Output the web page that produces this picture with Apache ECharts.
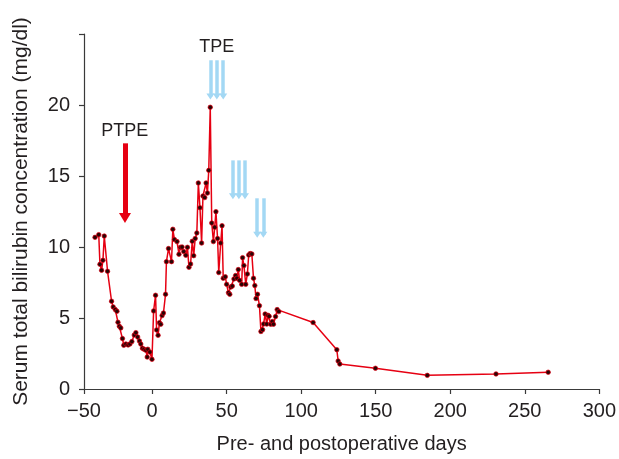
<!DOCTYPE html>
<html>
<head>
<meta charset="utf-8">
<script src="https://cdn.jsdelivr.net/npm/echarts@6/dist/echarts.min.js"></script>
<style>
  html, body { margin: 0; padding: 0; background: #fff; }
  #chart { width: 619px; height: 459px; }
</style>
</head>
<body>
<div id="chart"></div>
<script>
// days relative to operation, and serum bilirubin (mg/dl)
const days = [
  -38.3, -35.8, -35.0, -33.9, -33.0, -32.1, -29.9, -27.2, -26.1, -24.7,
  -23.6, -22.9, -22.0, -21.0, -19.9, -19.0, -17.6, -16.1, -14.9, -13.6,
  -12.0, -10.9, -9.7, -8.5, -7.6, -6.5, -5.4, -4.2, -3.3, -2.9,
  -1.5, -0.1, 1.0, 2.3, 3.0, 4.0, 4.9, 5.8, 6.7, 7.6,
  9.0, 9.6, 11.0, 13.0, 13.9, 15.0, 16.7, 18.0, 19.0, 20.1,
  21.2, 22.6, 23.7, 24.7, 25.8, 26.9, 27.9, 28.9, 30.0, 31.0,
  32.1, 33.2, 34.1, 35.3, 36.2, 37.1, 38.0, 39.0, 40.0, 41.1,
  42.0, 42.8, 43.9, 44.7, 46.0, 46.9, 47.7, 49.1, 50.0, 51.2,
  52.1, 52.8, 53.8, 54.9, 56.0, 56.9, 57.8, 58.7, 60.1, 60.7,
  61.6, 62.8, 63.9, 64.8, 65.8, 66.9, 68.0, 68.9, 69.7, 70.7,
  72.0, 73.0, 74.1, 74.8, 75.8, 76.9, 77.7, 78.5, 79.6, 80.6,
  81.4, 82.8, 83.9, 85.0, 108.0, 123.9, 124.8, 125.9, 149.8, 184.6,
  230.7, 265.7
];
const bilirubin = [
  10.68, 10.87, 8.78, 8.36, 9.06, 10.77, 8.29, 6.18, 5.78, 5.59,
  5.47, 4.70, 4.42, 4.30, 3.55, 3.08, 3.17, 3.10, 3.17, 3.34,
  3.80, 3.97, 3.66, 3.38, 3.17, 2.87, 2.80, 2.73, 2.25, 2.80,
  2.60, 2.09, 5.50, 6.60, 4.16, 3.78, 4.67, 4.56, 5.17, 5.35,
  6.67, 8.97, 9.89, 8.97, 11.25, 10.52, 10.38, 9.49, 9.98, 10.00,
  9.68, 9.42, 9.98, 8.57, 8.80, 10.40, 9.39, 10.60, 10.99, 14.51,
  12.77, 10.28, 13.59, 13.48, 14.51, 13.80, 15.40, 19.84, 11.69, 10.38,
  11.39, 12.49, 10.60, 8.20, 10.28, 11.50, 7.80, 7.90, 7.37, 6.78,
  6.67, 7.18, 7.25, 7.75, 7.99, 7.80, 8.41, 7.65, 7.37, 9.25,
  8.69, 7.37, 8.10, 9.44, 9.54, 9.51, 7.80, 7.28, 6.37, 6.67,
  5.87, 4.05, 4.18, 4.58, 5.28, 4.57, 5.19, 5.12, 4.56, 4.75,
  4.56, 5.10, 5.59, 5.45, 4.68, 2.77, 1.97, 1.76, 1.46, 0.96,
  1.06, 1.18
];

// treatment arrows: day, top value, head value
const ptpeArrow = { day: -18.2, top: 17.3, head: 12.05 };
const tpeDays = [39.1, 43.4, 47.7, 54.2, 58.2, 62.3, 70.5, 74.6];
const tpeTops = [23.15, 23.15, 23.15, 16.1, 16.1, 16.1, 13.43, 13.43];
const tpeHeads = [20.6, 20.6, 20.6, 13.57, 13.57, 13.57, 10.87, 10.87];

const annotations = [
  [-18.3, 18.2, 'PTPE'],
  [43.4, 24.1, 'TPE']
];

// the printed axis squeezes the first interval: "-50" sits at the axis origin
const xTickValues = [-45.7, 0, 50, 100, 150, 200, 250, 300];
const xTickLabels = ['\u221250', '0', '50', '100', '150', '200', '250', '300'];
const yTicks = { min: 0, max: 25, step: 5 };

const textColor = '#231f20';
const axisColor = '#3a3a3a';
const font = 'Liberation Sans, Arial, sans-serif';

const chart = echarts.init(document.getElementById('chart'), null, { renderer: 'canvas' });

const lineData = days.map((d, i) => [d, bilirubin[i]]);

const blueLines = tpeDays.map((d, i) => [
  { coord: [d, tpeTops[i]] },
  { coord: [d, tpeHeads[i]] }
]);

chart.setOption({
  animation: false,
  grid: { left: 84, right: 16, top: 34, bottom: 68 },
  xAxis: {
    type: 'value',
    min: xTickValues[0], max: xTickValues[xTickValues.length - 1],
    name: 'Pre- and postoperative days',
    nameLocation: 'middle',
    nameGap: 45,
    nameTextStyle: { color: textColor, fontSize: 20, fontFamily: font },
    axisLine: { onZero: false, lineStyle: { color: axisColor, width: 1.2 } },
    axisTick: { length: 5, customValues: xTickValues, lineStyle: { color: axisColor, width: 1.2 } },
    axisLabel: {
      color: textColor, fontSize: 20, fontFamily: font, margin: 12,
      customValues: xTickValues,
      formatter: v => {
        const i = xTickValues.indexOf(v);
        return i >= 0 ? xTickLabels[i] : '';
      }
    },
    splitLine: { show: false }
  },
  yAxis: {
    type: 'value',
    min: yTicks.min, max: yTicks.max, interval: yTicks.step,
    name: 'Serum total bilirubin concentration (mg/dl)',
    nameLocation: 'middle',
    nameGap: 52,
    nameTextStyle: { color: textColor, fontSize: 21, fontFamily: font },
    axisLine: { show: true, onZero: false, lineStyle: { color: axisColor, width: 1.2 } },
    axisTick: { show: true, length: 5, lineStyle: { color: axisColor, width: 1.2 } },
    axisLabel: {
      color: textColor, fontSize: 20, fontFamily: font, margin: 14,
      formatter: v => (v === yTicks.max ? '' : String(v))
    },
    splitLine: { show: false }
  },
  series: [
    {
      type: 'line',
      data: lineData,
      symbol: 'circle',
      symbolSize: 4.5,
      itemStyle: { color: '#2a0404', borderColor: 'rgba(230,0,18,0.7)', borderWidth: 1 },
      lineStyle: { color: '#e60012', width: 1.5 },
      z: 3
    },
    {
      type: 'line',
      data: [],
      markLine: {
        silent: true,
        symbol: ['none', 'triangle'],
        symbolSize: [12, 10],
        label: { show: false },
        lineStyle: { color: '#e60012', width: 5, type: 'solid' },
        data: [[
          { coord: [ptpeArrow.day, ptpeArrow.top] },
          { coord: [ptpeArrow.day, ptpeArrow.head] }
        ]]
      }
    },
    {
      type: 'line',
      data: [],
      markLine: {
        silent: true,
        symbol: ['none', 'triangle'],
        symbolSize: [8, 6],
        label: { show: false },
        lineStyle: { color: '#a3d8f4', width: 3.5, type: 'solid' },
        data: blueLines
      }
    },
    {
      type: 'scatter',
      data: annotations,
      symbolSize: 0,
      silent: true,
      itemStyle: { opacity: 1 },
      label: {
        show: true,
        position: 'inside',
        formatter: p => p.value[2],
        color: textColor,
        fontSize: 18,
        fontFamily: font
      }
    }
  ]
});
</script>
</body>
</html>
